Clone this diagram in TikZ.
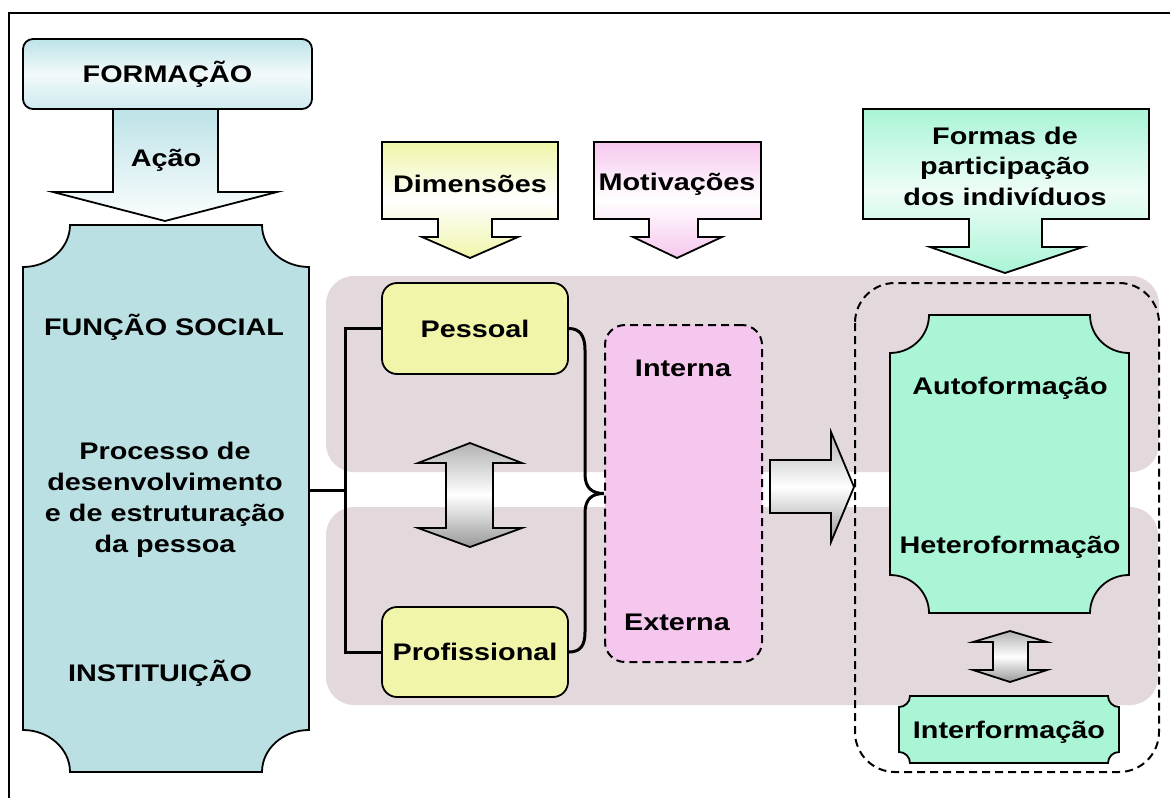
\documentclass[tikz,border=0pt]{standalone}
\usepackage{fontspec}
\setmainfont{Liberation Sans}[FakeStretch=1.2]
\definecolor{cyanbox}{HTML}{BBE0E3}
\definecolor{cyanlt}{HTML}{BDE3E8}
\definecolor{bandc}{HTML}{E3D9DD}
\definecolor{yel}{HTML}{F0F5A9}
\definecolor{pinkc}{HTML}{F6C7EE}
\definecolor{mint}{HTML}{A9F5D6}
\tikzset{
 txt/.style={font=\bfseries\fontsize{24}{31}\selectfont, inner sep=0pt, align=center},
 outl/.style={draw=black, line width=1.8pt},
 conn/.style={draw=black, line width=3pt},
 dashb/.style={draw=black, line width=2pt, dash pattern=on 8pt off 5pt},
 scrollp/.style n args={6}{insert path={(#1+#5,#2) -- (#3-#5,#2) .. controls (#3-#5,#2+0.552*#6) and (#3-0.552*#5,#2+#6) .. (#3,#2+#6) -- (#3,#4-#6) .. controls (#3-0.552*#5,#4-#6) and (#3-#5,#4-0.552*#6) .. (#3-#5,#4) -- (#1+#5,#4) .. controls (#1+#5,#4-0.552*#6) and (#1+0.552*#5,#4-#6) .. (#1,#4-#6) -- (#1,#2+#6) .. controls (#1+0.552*#5,#2+#6) and (#1+#5,#2+0.552*#6) .. (#1+#5,#2) -- cycle}},
 greyshade/.style={top color=gray!60, bottom color=gray!80, middle color=white}
}
\begin{document}
\begin{tikzpicture}[x=1pt,y=-1pt]
\useasboundingbox (0,0) rectangle (1170,798);
\fill[white] (0,0) rectangle (1170,798);
% outer frame
\draw[line width=2.5pt] (9,798) -- (9,13) -- (1170,13);

% Acao arrow
\path[outl, top color=cyanlt, bottom color=cyanlt!5] (113,109) -- (218,109) -- (218,192) -- (277,192) -- (165,221) -- (53,192) -- (113,192) -- cycle;
\node[txt] (acao) at (166,160) {Ação};
% FORMACAO box
\node[outl, rounded corners=10pt, minimum width=289pt, minimum height=70pt, top color=cyanlt, bottom color=cyanlt!75, middle color=cyanlt!20, txt] (formacao) at (167.5,74) {FORMAÇÃO};

% left scroll
\path[outl, fill=cyanbox, scrollp={23}{225}{309}{772}{47}{42}];
\node[minimum width=286pt, minimum height=547pt, inner sep=0pt] (social) at (166,498.5) {};
\node[txt] (funcao) at (164,327) {FUNÇÃO SOCIAL};
\node[txt] (processo) at (165,500) {Processo de\\desenvolvimento\\e de estruturação\\da pessoa};
\node[txt] (instit) at (160,673) {INSTITUIÇÃO};

% bands
\fill[bandc, rounded corners=28pt] (326,276) rectangle (1159,472);
\fill[bandc, rounded corners=28pt] (326,507) rectangle (1158,705);

% right dashed frame
\draw[dashb, rounded corners=40pt] (855,283) rectangle (1159,772);

% callouts
\path[outl, top color=yel, bottom color=yel, middle color=white] (382,142) -- (558,142) -- (558,219) -- (492,219) -- (492,237) -- (518,237) -- (470,258) -- (422,237) -- (438,237) -- (438,219) -- (382,219) -- cycle;
\node[txt] (dimens) at (470,184) {Dimensões};
\path[outl, top color=pinkc, bottom color=pinkc, middle color=white] (594,142) -- (761,142) -- (761,219) -- (698,219) -- (698,237) -- (722,237) -- (677,258) -- (633,237) -- (649,237) -- (649,219) -- (594,219) -- cycle;
\node[txt] (motiv) at (677,184) {Motivações};
\path[outl, top color=mint, bottom color=mint, middle color=mint!20] (863,109) -- (1149,109) -- (1149,219) -- (1042,219) -- (1042,247) -- (1083,247) -- (1005,273) -- (930,247) -- (969,247) -- (969,219) -- (863,219) -- cycle;
\node[txt, font=\bfseries\fontsize{24}{30.5}\selectfont] (formas) at (1005,166) {Formas de\\participação\\dos indivíduos};

% Pessoal / Profissional
\node[outl, rounded corners=15pt, fill=yel, minimum width=186pt, minimum height=91pt, txt] (pessoal) at (475,328.5) {Pessoal};
\node[outl, rounded corners=15pt, fill=yel, minimum width=186pt, minimum height=90pt, txt] (profis) at (475,652) {Profissional};

% pink dashed box
\node[dashb, fill=pinkc, rounded corners=20pt, minimum width=157pt, minimum height=337pt, inner sep=0pt] (motbox) at (683.5,493.5) {};
\node[txt] (interna) at (683,368) {Interna};
\node[txt] (externa) at (677,622) {Externa};

% bracket
\coordinate (brL) at (309,490);
\coordinate (brM) at (345,490);
\draw[conn] (brL) -- (brM);
\draw[conn, line cap=rect] (pessoal.west) -- (345,328.5) -- (345,652) -- (profis.west);
% brace
\draw[conn] (pessoal.east) .. controls (580,328.5) and (585,336) .. (585,350) -- (585,474) .. controls (585,488) and (592,493.5) .. (motbox.west) .. controls (592,493.5) and (585,499) .. (585,513) -- (585,632) .. controls (585,646) and (580,652) .. (profis.east);

% double arrow between Pessoal and Profissional
\path[outl, greyshade] (470,443) -- (522,463) -- (493,463) -- (493,528) -- (522,528) -- (470,547) -- (418,528) -- (446,528) -- (446,463) -- (418,463) -- cycle;
% right arrow
\path[outl, greyshade] (770,460) -- (831,460) -- (831,432) -- (854,487) -- (831,542) -- (831,513) -- (770,513) -- cycle;

% Auto/Hetero scroll
\path[outl, fill=mint, scrollp={890}{315}{1129}{613}{39}{38}];
\node[txt] (auto) at (1010,388) {Autoformação};
\node[txt] (hetero) at (1010,547) {Heteroformação};
% small double arrow
\path[outl, greyshade] (1010,631) -- (1047,642) -- (1028,642) -- (1028,670) -- (1047,670) -- (1010,682) -- (973,670) -- (993,670) -- (993,642) -- (973,642) -- cycle;
% Interformacao
\path[outl, fill=mint, scrollp={899}{696}{1119}{763}{11}{11}];
\node[txt] (inter) at (1009,732) {Interformação};
\end{tikzpicture}
\end{document}
